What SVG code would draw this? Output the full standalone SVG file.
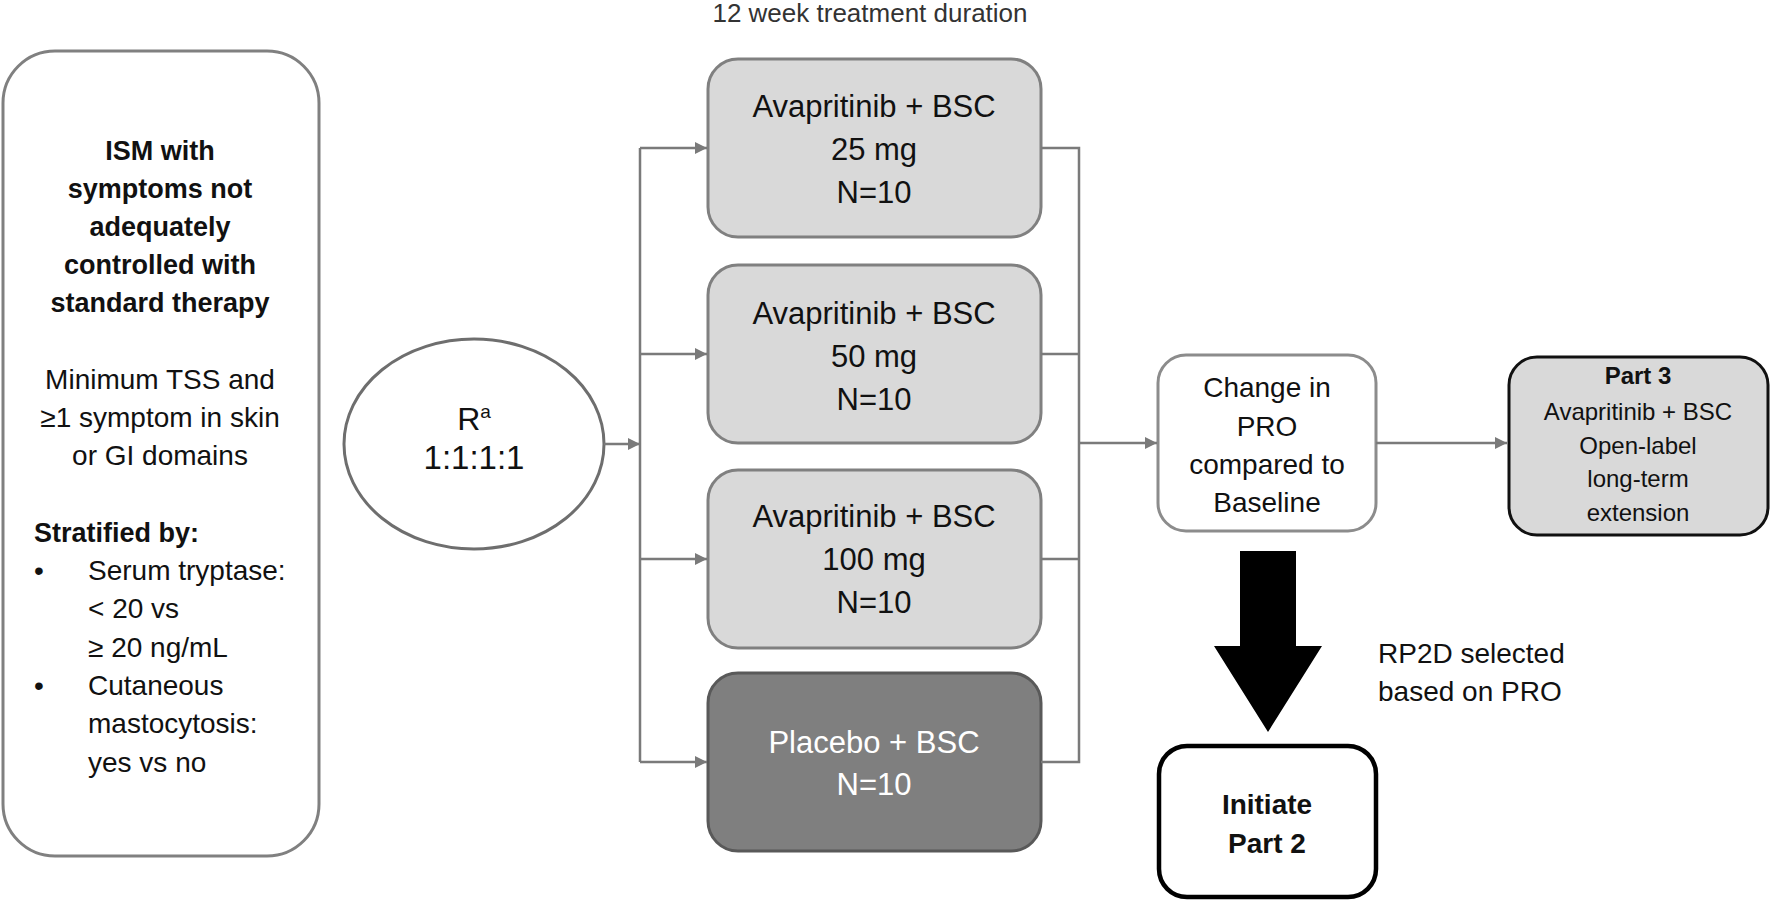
<svg xmlns="http://www.w3.org/2000/svg" width="1771" height="902" viewBox="0 0 1771 902">
<defs>
<style>
text{font-family:"Liberation Sans",Arial,sans-serif;fill:#111}
.c{text-anchor:middle}
.b{font-weight:bold}
.lt{font-size:28px}
.lb{font-size:27px;font-weight:bold}
.bx{font-size:31px}
.chg{font-size:28px}
.p3{font-size:24px}
.arm{fill:#d9d9d9;stroke:#808080;stroke-width:3}
.conn{stroke:#7a7a7a;stroke-width:2.5;fill:none}
</style>
<marker id="ah" viewBox="0 0 10 10" refX="10" refY="5" markerWidth="5" markerHeight="5" markerUnits="strokeWidth" orient="auto">
<path d="M0,0 L10,5 L0,10 z" fill="#7a7a7a"/>
</marker>
</defs>
<rect width="1771" height="902" fill="#fff"/>

<text class="c" x="870" y="22" style="font-size:26px;fill:#333">12 week treatment duration</text>

<g id="population">
<rect x="3" y="51" width="316" height="805" rx="52" fill="#fff" stroke="#808080" stroke-width="3"/>
<text class="c lb" x="160" y="160">ISM with</text>
<text class="c lb" x="160" y="198">symptoms not</text>
<text class="c lb" x="160" y="236">adequately</text>
<text class="c lb" x="160" y="274">controlled with</text>
<text class="c lb" x="160" y="312">standard therapy</text>
<text class="c lt" x="160" y="389">Minimum TSS and</text>
<text class="c lt" x="160" y="427">≥1 symptom in skin</text>
<text class="c lt" x="160" y="465">or GI domains</text>
<text class="lb" x="34" y="542">Stratified by:</text>
<text class="lt" x="34" y="580">•</text>
<text class="lt" x="88" y="580">Serum tryptase:</text>
<text class="lt" x="88" y="618">&lt; 20 vs</text>
<text class="lt" x="88" y="657">≥ 20 ng/mL</text>
<text class="lt" x="34" y="695">•</text>
<text class="lt" x="88" y="695">Cutaneous</text>
<text class="lt" x="88" y="733">mastocytosis:</text>
<text class="lt" x="88" y="772">yes vs no</text>
</g>

<g id="randomization">
<ellipse cx="474" cy="444" rx="130" ry="105" fill="#fff" stroke="#6e6e6e" stroke-width="3"/>
<text class="c" x="474" y="430" style="font-size:32px">R<tspan dy="-12" style="font-size:19px">a</tspan></text>
<text class="c" x="474" y="469" style="font-size:33px">1:1:1:1</text>
</g>

<g id="arm25">
<rect class="arm" x="708" y="59" width="333" height="178" rx="30"/>
<text class="c bx" x="874" y="117">Avapritinib + BSC</text>
<text class="c bx" x="874" y="160">25 mg</text>
<text class="c bx" x="874" y="203">N=10</text>
</g>
<g id="arm50">
<rect class="arm" x="708" y="265" width="333" height="178" rx="30"/>
<text class="c bx" x="874" y="324">Avapritinib + BSC</text>
<text class="c bx" x="874" y="367">50 mg</text>
<text class="c bx" x="874" y="410">N=10</text>
</g>
<g id="arm100">
<rect class="arm" x="708" y="470" width="333" height="178" rx="30"/>
<text class="c bx" x="874" y="527">Avapritinib + BSC</text>
<text class="c bx" x="874" y="570">100 mg</text>
<text class="c bx" x="874" y="613">N=10</text>
</g>
<g id="placebo">
<rect x="708" y="673" width="333" height="178" rx="30" fill="#7f7f7f" stroke="#595959" stroke-width="3"/>
<text class="c bx" x="874" y="753" style="fill:#fff">Placebo + BSC</text>
<text class="c bx" x="874" y="795" style="fill:#fff">N=10</text>
</g>

<g id="change">
<rect x="1158" y="355" width="218" height="176" rx="28" fill="#fff" stroke="#8c8c8c" stroke-width="3"/>
<text class="c chg" x="1267" y="397">Change in</text>
<text class="c chg" x="1267" y="436">PRO</text>
<text class="c chg" x="1267" y="474">compared to</text>
<text class="c chg" x="1267" y="512">Baseline</text>
</g>

<g id="part3">
<rect x="1509" y="357" width="259" height="178" rx="28" fill="#d9d9d9" stroke="#111" stroke-width="3"/>
<text class="c p3 b" x="1638" y="384">Part 3</text>
<text class="c p3" x="1638" y="420">Avapritinib + BSC</text>
<text class="c p3" x="1638" y="454">Open-label</text>
<text class="c p3" x="1638" y="487">long-term</text>
<text class="c p3" x="1638" y="521">extension</text>
</g>

<g id="part2">
<rect x="1159" y="746" width="217" height="151" rx="28" fill="#fff" stroke="#000" stroke-width="4.5"/>
<text class="c b chg" x="1267" y="814">Initiate</text>
<text class="c b chg" x="1267" y="853">Part 2</text>
</g>

<g id="rp2d-label">
<text class="chg" x="1378" y="663">RP2D selected</text>
<text class="chg" x="1378" y="701">based on PRO</text>
</g>

<g id="connectors">
<line class="conn" x1="604" y1="444" x2="640" y2="444" marker-end="url(#ah)"/>
<line class="conn" x1="640" y1="148" x2="640" y2="762"/>
<line class="conn" x1="640" y1="148" x2="707" y2="148" marker-end="url(#ah)"/>
<line class="conn" x1="640" y1="354" x2="707" y2="354" marker-end="url(#ah)"/>
<line class="conn" x1="640" y1="559" x2="707" y2="559" marker-end="url(#ah)"/>
<line class="conn" x1="640" y1="762" x2="707" y2="762" marker-end="url(#ah)"/>
<path class="conn" d="M1041,148 H1079 V762 H1041 M1041,354 H1079 M1041,559 H1079"/>
<line class="conn" x1="1079" y1="443" x2="1157" y2="443" marker-end="url(#ah)"/>
<line class="conn" x1="1376" y1="443" x2="1507" y2="443" marker-end="url(#ah)"/>
<polygon points="1240,551 1296,551 1296,646 1322,646 1268,732 1214,646 1240,646" fill="#000"/>
</g>
</svg>
